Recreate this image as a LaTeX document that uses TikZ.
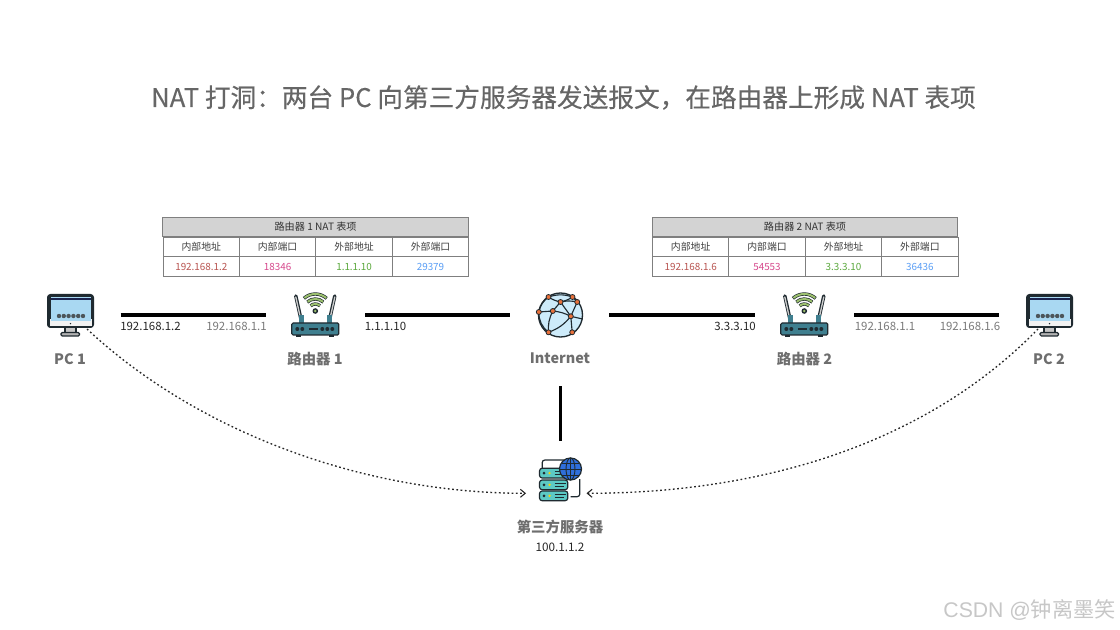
\documentclass[tikz,border=0pt]{standalone}
\usepackage{fontspec}
\setmainfont{Noto Sans CJK SC}
\newfontfamily\wmfont{Liberation Sans}
\newfontfamily\titlefont[FakeBold=0.25]{Noto Sans CJK SC}
\usetikzlibrary{arrows.meta}
\definecolor{ink}{HTML}{1F2A30}
\definecolor{titlegray}{HTML}{666666}
\definecolor{labelgray}{HTML}{6E6E6E}
\definecolor{ipgray}{HTML}{7A7A7A}
\definecolor{ipblack}{HTML}{262626}
\definecolor{cellred}{HTML}{B85450}
\definecolor{cellpink}{HTML}{D6488C}
\definecolor{cellgreen}{HTML}{5AA83C}
\definecolor{cellblue}{HTML}{5A9EF5}
\definecolor{headfill}{HTML}{D3D3D3}
\definecolor{gridgray}{HTML}{7F7F7F}
\definecolor{screenblue}{HTML}{A9D8F2}
\definecolor{teal}{HTML}{3F7F8F}
\definecolor{wifigreen}{HTML}{9CC06E}
\definecolor{globefill}{HTML}{CDEBFA}
\definecolor{dotorange}{HTML}{E8703A}
\definecolor{racktop}{HTML}{5CC9C4}
\definecolor{webblue}{HTML}{2F6FDB}
\tikzset{
  x=0.75pt, y=-0.75pt,
  headcell/.style={draw=gridgray,fill=headfill,line width=0.7pt,minimum width=229.4pt,minimum height=14.8pt,inner sep=0pt,font=\fontsize{7.6pt}{9pt}\selectfont,text=black!80},
  namecell/.style={draw=gridgray,line width=0.7pt,minimum width=57.35pt,minimum height=14.8pt,inner sep=0pt,font=\fontsize{7.4pt}{9pt}\selectfont,text=black!75},
  datacell/.style={namecell,text=#1},
  iconbox/.style={minimum width=36pt,minimum height=31.5pt,inner sep=0pt},
  devlabel/.style={font=\fontsize{10.8pt}{13pt}\selectfont\bfseries,text=labelgray,inner sep=0pt},
  iplabel/.style={font=\fontsize{8.6pt}{10pt}\selectfont,inner sep=0pt},
  link/.style={line width=2.4pt,black},
  probe/.style={line width=1pt,black!85,dash pattern=on 1.3pt off 1.9pt,-{Straight Barb[length=3.6pt,width=6pt,line width=0.8pt]}},
  pics/monitor/.style={code={
    \draw[ink,fill=gray!45,line width=0.8pt] (-5.5,12) rectangle (5.5,18);
    \draw[ink,fill=gray!60,line width=0.9pt,rounded corners=1pt] (-9.5,17.5) rectangle (9,21);
    \fill[ink,rounded corners=2.5pt] (-23.5,-21) rectangle (23.5,13);
    \fill[white!90!gray] (-21,4) rectangle (21,11);
    \fill[screenblue] (-20,-17.5) rectangle (20,6.5);
    \fill[ink!85!blue] (-20,-16.5) rectangle (20,-14.8);
    \foreach \k in {0,...,5} \fill[ink!80] (-11.5+\k*4.8,1) circle (2.2);
    \fill[ink] (0,8.7) circle (0.8);
  }},
  pics/router/.style={code={
    \draw[ink,line width=2.6pt,line cap=round] (-19.5,-19) -- (-13.5,8);
    \draw[ink,line width=2.6pt,line cap=round] (19.5,-19) -- (13.5,8);
    \draw[gray!40,line width=1pt,line cap=round] (-19.5,-18) -- (-15.5,0);
    \draw[gray!40,line width=1pt,line cap=round] (19.5,-18) -- (15.5,0);
    \fill[teal] (-16.5,0) rectangle (-11.5,8);
    \fill[teal] (16.5,0) rectangle (11.5,8);
    \fill[ink] (-19,20) rectangle (-14,22);
    \fill[ink] (19,20) rectangle (14,22);
    \foreach \r in {7,12,17} {
      \draw[ink,line width=2.5pt] (0,-4) ++(-132:\r) arc (-132:-48:\r);
      \draw[wifigreen,line width=1.5pt] (0,-4) ++(-130:\r) arc (-130:-50:\r);
    }
    \fill[ink] (0,-4) circle (2.8);
    \fill[wifigreen] (0,-4) circle (1.4);
    \draw[ink,fill=teal,line width=0.9pt,rounded corners=1pt] (-23.5,8) rectangle (23.5,20);
    \foreach \d in {-18,-13,7,12,17} \fill[ink] (\d,14) circle (2);
    \draw[ink,line width=1.1pt] (-6,14) -- (3,14);
  }},
  pics/webglobe/.style={code={
    \draw[ink,fill=globefill,line width=1pt] (0,0) circle (22);
    \begin{scope}[ink,line width=0.85pt]
      \draw (-12,-18) to[bend right=10] (0,-13);
      \draw (12,-18) to[bend left=10] (0,-13);
      \draw (-12,-18) to[bend left=18] (12,-18);
      \draw (0,-13) to[bend left=12] (16.7,-13);
      \draw (-21.7,-3) to[bend left=20] (-12,-18);
      \draw (-21.7,-3) -- (-7.7,-4);
      \draw (-7.7,-4) -- (0,-13);
      \draw (-7.7,-4) to[bend left=10] (10.3,1.3);
      \draw (0,-13) -- (10.3,1.3);
      \draw (16.7,-13) -- (10.3,1.3);
      \draw (12,-18) -- (16.7,-13);
      \draw (10.3,1.3) -- (11.7,17.3);
      \draw (10.3,1.3) to[bend left=15] (-12,17.3);
      \draw (-7.7,-4) to[bend right=15] (-12,17.3);
      \draw (-21.7,-3) to[bend right=25] (-12,17.3);
      \draw (10.3,1.3) -- (22,4);
    \end{scope}
    \foreach \a/\b in {-12/-18,12/-18,0/-13,16.7/-13,-21.7/-3,-7.7/-4,10.3/1.3,-12/17.3,11.7/17.3}
      \draw[ink,fill=dotorange,line width=0.6pt] (\a,\b) circle (2.5);
  }},
  pics/serverrack/.style={code={
    \draw[ink,line width=0.9pt,rounded corners=2pt] (-18.3,-12) -- (-18.3,-20) -- (4,-20);
    \draw[ink,line width=0.9pt,rounded corners=2pt] (19.3,-1) -- (19.3,16.7) -- (10,16.7);
    \foreach \t in {-11.7,0,11} {
      \draw[ink,fill=racktop,line width=0.9pt,rounded corners=2pt] (-21,\t) rectangle (7.3,\t+9.7);
      \fill[ink] (-16.5,\t+4.8) circle (1.5);
      \fill[yellow!70!orange] (-11,\t+4.8) circle (1.3);
      \draw[ink,line width=0.7pt] (-6,\t+3.3) -- (5,\t+3.3);
      \draw[ink,line width=0.7pt] (-6,\t+6.3) -- (3,\t+6.3);
    }
    \draw[ink,fill=webblue,line width=0.9pt] (10,-11) circle (11);
    \begin{scope}[ink,line width=0.7pt]
      \draw (10,-11) ellipse (4.5 and 11);
      \draw (10,-22) -- (10,0);
      \draw (-1,-11) -- (21,-11);
      \draw (1.5,-17) -- (18.5,-17);
      \draw (1.5,-5) -- (18.5,-5);
    \end{scope}
  }}
}
\newcommand{\nattable}[7]{%
  \begin{scope}[xshift=#2*0.75pt]
    \node[headcell] (#1head) at (315.6,227) {#3};
    \node[namecell] (#1na) at (201.3,247) {内部地址};
    \node[namecell] (#1nb) at (277.6,247) {内部端口};
    \node[namecell] (#1nc) at (354.1,247) {外部地址};
    \node[namecell] (#1nd) at (430.5,247) {外部端口};
    \node[datacell=cellred] (#1da) at (201.3,266.7) {#4};
    \node[datacell=cellpink] (#1db) at (277.6,266.7) {#5};
    \node[datacell=cellgreen] (#1dc) at (354.1,266.7) {#6};
    \node[datacell=cellblue] (#1dd) at (430.5,266.7) {#7};
  \end{scope}%
}
\begin{document}
\begin{tikzpicture}
\useasboundingbox (0,0) rectangle (1120,630);
\fill[white] (0,0) rectangle (1120,630);

\node[font=\titlefont\fontsize{19.25pt}{23pt}\selectfont,text=titlegray,inner sep=0pt] (title) at (563.5,97.5)
  {NAT 打洞：两台 PC 向第三方服务器发送报文，在路由器上形成 NAT 表项};

\nattable{ta}{0}{路由器 1 NAT 表项}{192.168.1.2}{18346}{1.1.1.10}{29379}
\nattable{tb}{489.4}{路由器 2 NAT 表项}{192.168.1.6}{54553}{3.3.3.10}{36436}

% devices
\node[iconbox] (pc1) at (70.5,315) {};
\node[iconbox] (r1) at (315.3,315) {};
\node[iconbox] (inet) at (560.5,315) {};
\node[iconbox] (r2) at (804.3,315) {};
\node[iconbox] (pc2) at (1049.5,315) {};
\node[iconbox] (srv) at (560.5,480) {};
\pic at (pc1.center) {monitor};
\pic at (pc2.center) {monitor};
\pic at (r1.center) {router};
\pic at (r2.center) {router};
\pic at (inet.center) {webglobe};
\pic at (srv.center) {serverrack};

% device labels
\node[devlabel] (lpc1) at (70,358.7) {PC 1};
\node[devlabel] (lr1) at (315,358.7) {路由器 1};
\node[devlabel] (lnet) at (560,358.7) {Internet};
\node[devlabel] (lr2) at (804.5,358.7) {路由器 2};
\node[devlabel] (lpc2) at (1049,358.7) {PC 2};
\node[devlabel] (lsrv) at (560,526.5) {第三方服务器};
\node[iplabel,font=\fontsize{8.8pt}{10pt}\selectfont,text=ipblack] (ipsrv) at (560,547) {100.1.1.2};

% links
\draw[link,shorten <=19.3pt,shorten >=18.8pt] (pc1.east) -- (r1.west);
\draw[link,shorten <=19.3pt,shorten >=20pt] (r1.east) -- (inet.west);
\draw[link,shorten <=18.3pt,shorten >=18.5pt] (inet.east) -- (r2.west);
\draw[link,shorten <=19.3pt,shorten >=19.5pt] (r2.east) -- (pc2.west);
\draw[link,shorten <=37.5pt,shorten >=13.5pt] (inet.south) -- (srv.north);

% addresses
\node[iplabel,text=ipblack,anchor=west] (ip1) at (120,326) {192.168.1.2};
\node[iplabel,text=ipgray,anchor=east] (ip2) at (267,326) {192.168.1.1};
\node[iplabel,text=ipblack,anchor=west] (ip3) at (364.5,326) {1.1.1.10};
\node[iplabel,text=ipblack,anchor=east] (ip4) at (756,326) {3.3.3.10};
\node[iplabel,text=ipgray,anchor=west] (ip5) at (854.5,326) {192.168.1.1};
\node[iplabel,text=ipgray,anchor=east] (ip6) at (1000.5,326) {192.168.1.6};

% probes
\coordinate (out1) at (87,329);
\coordinate (out2) at (1038,329);
\coordinate (in1) at (526,493.3);
\coordinate (in2) at (586.5,493.3);
\draw[probe] (out1) .. controls (195,430) and (360,493.3) .. (in1);
\draw[probe] (out2) .. controls (925,445) and (760,493.3) .. (in2);

\node[inner sep=0pt,text=black!22,font=\fontsize{15.9pt}{19pt}\selectfont,anchor=east] (mark) at (1116,610) {{\wmfont CSDN @}钟离墨笑};
\end{tikzpicture}
\end{document}
